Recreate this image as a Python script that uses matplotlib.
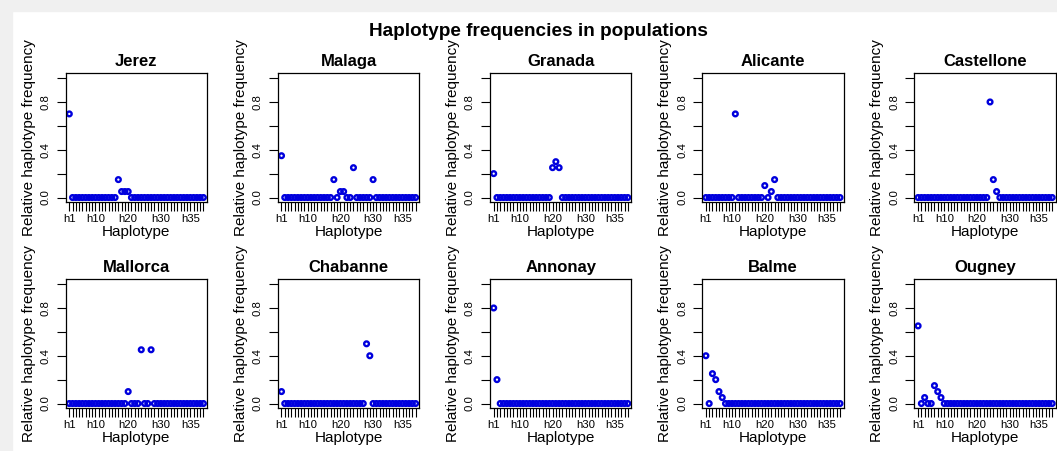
import matplotlib
matplotlib.use("Agg")
import matplotlib.pyplot as plt
from matplotlib.patches import Rectangle
import numpy as np

plt.rcParams["font.family"] = ["Liberation Sans", "DejaVu Sans"]

# Haplotype positions along the x axis and the labelled ticks
haplotype_idx = np.arange(1, 43)
tick_pos = [1, 9, 19, 29, 38]
tick_labels = ["h1", "h10", "h20", "h30", "h35"]

populations = ["Jerez", "Malaga", "Granada", "Alicante", "Castellone",
               "Mallorca", "Chabanne", "Annonay", "Balme", "Ougney"]

# Relative haplotype frequencies per population (haplotypes 1..42)
jerez = [0.70, 0, 0, 0, 0, 0, 0, 0, 0, 0,
         0, 0, 0, 0, 0, 0.15, 0.05, 0.05, 0.05, 0,
         0, 0, 0, 0, 0, 0, 0, 0, 0, 0,
         0, 0, 0, 0, 0, 0, 0, 0, 0, 0,
         0, 0]
malaga = [0.35, 0, 0, 0, 0, 0, 0, 0, 0, 0,
          0, 0, 0, 0, 0, 0, 0.15, 0, 0.05, 0.05,
          0, 0, 0.25, 0, 0, 0, 0, 0, 0.15, 0,
          0, 0, 0, 0, 0, 0, 0, 0, 0, 0,
          0, 0]
granada = [0.20, 0, 0, 0, 0, 0, 0, 0, 0, 0,
           0, 0, 0, 0, 0, 0, 0, 0, 0.25, 0.30,
           0.25, 0, 0, 0, 0, 0, 0, 0, 0, 0,
           0, 0, 0, 0, 0, 0, 0, 0, 0, 0,
           0, 0]
alicante = [0, 0, 0, 0, 0, 0, 0, 0, 0, 0.70,
            0, 0, 0, 0, 0, 0, 0, 0, 0.10, 0,
            0.05, 0.15, 0, 0, 0, 0, 0, 0, 0, 0,
            0, 0, 0, 0, 0, 0, 0, 0, 0, 0,
            0, 0]
castellone = [0, 0, 0, 0, 0, 0, 0, 0, 0, 0,
              0, 0, 0, 0, 0, 0, 0, 0, 0, 0,
              0, 0, 0.80, 0.15, 0.05, 0, 0, 0, 0, 0,
              0, 0, 0, 0, 0, 0, 0, 0, 0, 0,
              0, 0]
mallorca = [0, 0, 0, 0, 0, 0, 0, 0, 0, 0,
            0, 0, 0, 0, 0, 0, 0, 0, 0.10, 0,
            0, 0, 0.45, 0, 0, 0.45, 0, 0, 0, 0,
            0, 0, 0, 0, 0, 0, 0, 0, 0, 0,
            0, 0]
chabanne = [0.10, 0, 0, 0, 0, 0, 0, 0, 0, 0,
            0, 0, 0, 0, 0, 0, 0, 0, 0, 0,
            0, 0, 0, 0, 0, 0, 0.50, 0.40, 0, 0,
            0, 0, 0, 0, 0, 0, 0, 0, 0, 0,
            0, 0]
annonay = [0.80, 0.20, 0, 0, 0, 0, 0, 0, 0, 0,
           0, 0, 0, 0, 0, 0, 0, 0, 0, 0,
           0, 0, 0, 0, 0, 0, 0, 0, 0, 0,
           0, 0, 0, 0, 0, 0, 0, 0, 0, 0,
           0, 0]
balme = [0.40, 0, 0.25, 0.20, 0.10, 0.05, 0, 0, 0, 0,
         0, 0, 0, 0, 0, 0, 0, 0, 0, 0,
         0, 0, 0, 0, 0, 0, 0, 0, 0, 0,
         0, 0, 0, 0, 0, 0, 0, 0, 0, 0,
         0, 0]
ougney = [0.65, 0, 0.05, 0, 0, 0.15, 0.10, 0.05, 0, 0,
          0, 0, 0, 0, 0, 0, 0, 0, 0, 0,
          0, 0, 0, 0, 0, 0, 0, 0, 0, 0,
          0, 0, 0, 0, 0, 0, 0, 0, 0, 0,
          0, 0]

freqs = [jerez, malaga, granada, alicante, castellone,
         mallorca, chabanne, annonay, balme, ougney]

W, H = 1057, 451
fig = plt.figure(figsize=(W / 100, H / 100), dpi=100)
fig.patch.set_facecolor("white")
# light grey window margins
fig.patches.append(Rectangle((0, 1 - 11 / H), 1, 11 / H, transform=fig.transFigure,
                             color="#f0f0f0", zorder=0))
fig.patches.append(Rectangle((0, 0), 12 / W, 1, transform=fig.transFigure,
                             color="#f0f0f0", zorder=0))

lefts = [65.7, 277.9, 490.1, 702.3, 914.5]
tops = [73.3, 279.3]
pw, ph = 141.3, 129.0

for k, (name, freq) in enumerate(zip(populations, freqs)):
    r, c = divmod(k, 5)
    ax = fig.add_axes([lefts[c] / W, 1 - (tops[r] + ph) / H, pw / W, ph / H])
    # open circles; a collection keeps sub-pixel spacing between markers
    ax.scatter(haplotype_idx, freq, s=3.4 ** 2, marker="o", facecolors="none",
               edgecolors="#0000dd", linewidths=1.7)
    ax.set_xlim(1 - 1.1, 42 + 1.1)
    ax.set_ylim(-0.04, 1.04)

    ax.set_xticks(haplotype_idx, minor=True)
    ax.set_xticks(tick_pos, tick_labels)
    ax.set_yticks([0.2, 0.6, 1.0], minor=True)
    ax.set_yticks([0.0, 0.4, 0.8], ["0.0", "0.4", "0.8"], rotation=90, va="center")

    ax.tick_params(which="both", direction="out", length=6.5, width=0.8, color="black")
    ax.tick_params(axis="x", which="major", labelsize=8.2, pad=2)
    ax.tick_params(axis="y", which="major", labelsize=8.2, pad=4.4)
    for s in ax.spines.values():
        s.set_linewidth(0.9)

    ax.set_title(name, fontsize=12, fontweight="bold", pad=5.3)
    ax.set_xlabel("Haplotype", fontsize=11, labelpad=1)
    ax.set_ylabel("Relative haplotype frequency", fontsize=11, labelpad=3.5)

fig.text(538 / W, 1 - 36 / H, "Haplotype frequencies in populations",
         ha="center", va="baseline", fontsize=13.7, fontweight="bold")

fig.savefig("out.png", dpi=100)
